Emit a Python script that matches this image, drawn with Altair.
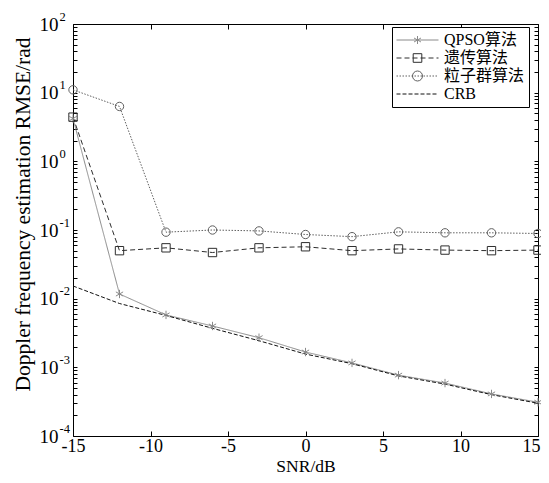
import altair as alt
import pandas as pd

SNR = [-15, -12, -9, -6, -3, 0, 3, 6, 9, 12, 15]
QPSO = [4.2, 0.0117, 0.0058, 0.0040, 0.0027, 0.00167, 0.00116, 0.00077, 0.00059, 0.00041, 0.00031]
GA = [4.4, 0.050, 0.055, 0.047, 0.055, 0.057, 0.050, 0.053, 0.051, 0.050, 0.051]
PSO = [11.0, 6.3, 0.093, 0.100, 0.097, 0.086, 0.080, 0.094, 0.091, 0.091, 0.089]
CRB = [0.0153, 0.0085, 0.0057, 0.0037, 0.00244, 0.00156, 0.00113, 0.00075, 0.00057, 0.00040, 0.00030]

SERIES = ["QPSO算法", "遗传算法", "粒子群算法", "CRB"]
X_TICKS = [-15, -10, -5, 0, 5, 10, 15]
Y_DECADES = [1e-4, 1e-3, 1e-2, 1e-1, 1e0, 1e1, 1e2]
Y_MINOR = [k * 10.0 ** d for d in range(-4, 2) for k in range(1, 10)] + [100.0]

rows = []
for name, vals in zip(SERIES, [QPSO, GA, PSO, CRB]):
    for s, v in zip(SNR, vals):
        rows.append({"snr": s, "value": v, "series": name})
df = pd.DataFrame(rows)

SERIF = "Liberation Serif, Times New Roman, serif"
LEGFONT = "Liberation Serif, Noto Sans CJK SC, serif"

COLORS = ["#8a8a8a", "#2e2e2e", "#606060", "#111111"]
DASHES = [[1, 0], [5, 3], [1.5, 1.5], [4, 2]]
ASTER = "M0,-1V1M-0.866,-0.5L0.866,0.5M-0.866,0.5L0.866,-0.5"

U = 21.0  # legend path unit in px


def dashed(dash, gap):
    x = -1.0
    parts = []
    while x < 1.0:
        x2 = min(x + dash / U, 1.0)
        parts.append(f"M{x:.3f},0H{x2:.3f}")
        x = x2 + gap / U
    return "".join(parts)


a = 4.0 / U
sq = 4.3 / U
cr = 5.0 / U
LEG_PATHS = [
    "M-1,0H1" + f"M0,{-a:.3f}V{a:.3f}M{-0.866*a:.3f},{-0.5*a:.3f}L{0.866*a:.3f},{0.5*a:.3f}"
    f"M{-0.866*a:.3f},{0.5*a:.3f}L{0.866*a:.3f},{-0.5*a:.3f}",
    dashed(5, 3) + f"M{-sq:.3f},{-sq:.3f}H{sq:.3f}V{sq:.3f}H{-sq:.3f}Z",
    dashed(1.5, 1.5) + f"M{cr:.3f},0A{cr:.3f},{cr:.3f} 0 1,1 {-cr:.3f},0A{cr:.3f},{cr:.3f} 0 1,1 {cr:.3f},0Z",
    dashed(4, 2),
]

xscale = alt.Scale(domain=[-15, 15], nice=False, zero=False)
yscale = alt.Scale(type="log", domain=[1e-4, 1e2], nice=False)
cscale = alt.Scale(domain=SERIES, range=COLORS)

base = alt.Chart(df)

x_label_axis = alt.Axis(
    values=X_TICKS, labelExpr="toString(datum.value)", ticks=False, tickSize=0,
    domain=False, grid=False, labelFont=SERIF, labelFontSize=18, labelColor="black",
    labelPadding=15, labelBaseline="alphabetic", labelFlush=False, labelOverlap=False,
    labelOffset={"condition": {"test": "datum.value == 15", "value": -7}, "value": 0},
    title="SNR/dB", titleFont=SERIF, titleFontSize=17.5, titleFontWeight="normal",
    titleColor="black", titleBaseline="alphabetic", titleY=35, orient="bottom",
)
y_label_axis = alt.Axis(
    values=Y_DECADES, labelExpr="'10'", ticks=False, tickSize=0, domain=False,
    grid=False, labelFont=SERIF, labelFontSize=19, labelColor="black",
    labelPadding=15, labelBaseline="middle", labelOverlap=False, labelFlush=False,
    title="Doppler frequency estimation RMSE/rad", titleFont=SERIF, titleFontSize=21.5,
    titleFontWeight="normal", titleColor="black", titleBaseline="alphabetic",
    titleAlign="center", titleAngle=270, titleX=-44, titleY=190, orient="left",
)
x_bottom_ticks = alt.Axis(
    values=X_TICKS, orient="bottom", offset=-5, tickSize=5, ticks=True, labels=False,
    domain=False, grid=False, title=None, tickColor="black", tickWidth=1,
)
y_exp_axis = alt.Axis(
    values=Y_DECADES, labelExpr="toString(round(log(datum.value)/LN10))", ticks=False,
    tickSize=0, domain=False, grid=False, labelFont=SERIF, labelFontSize=12.5,
    labelColor="black", labelAlign="left", labelPadding=14, labelOffset=-8,
    labelBaseline="middle", labelOverlap=False, labelFlush=False, title=None, orient="left",
)
x_top_ticks = alt.Axis(
    values=X_TICKS, orient="top", offset=-5, tickSize=5, ticks=True, labels=False,
    domain=False, grid=False, title=None, tickColor="black", tickWidth=1,
)
y_left_ticks = alt.Axis(
    values=Y_MINOR, orient="left", offset=-4, tickSize=4, ticks=True, labels=False,
    domain=False, grid=False, title=None, tickColor="black", tickWidth=1,
)
y_right_ticks = alt.Axis(
    values=Y_MINOR, orient="right", offset=-4, tickSize=4, ticks=True, labels=False,
    domain=False, grid=False, title=None, tickColor="black", tickWidth=1,
)

lines = base.mark_line(strokeWidth=1).encode(
    x=alt.X("snr:Q", scale=xscale, axis=x_label_axis),
    y=alt.Y("value:Q", scale=yscale, axis=y_label_axis),
    color=alt.Color("series:N", scale=cscale, legend=None),
    strokeDash=alt.StrokeDash("series:N", scale=alt.Scale(domain=SERIES, range=DASHES), legend=None),
)

points = base.transform_filter(alt.datum.series != "CRB").mark_point(
    filled=False, size=70, strokeWidth=1, opacity=1
).encode(
    x=alt.X("snr:Q", scale=xscale, axis=x_bottom_ticks),
    y=alt.Y("value:Q", scale=yscale, axis=y_exp_axis),
    color=alt.Color("series:N", scale=cscale, legend=None),
    shape=alt.Shape("series:N", scale=alt.Scale(domain=SERIES, range=[ASTER, "square", "circle", "circle"]), legend=None),
)

leg = dict(
    title=None, orient="none", legendX=319, legendY=3, padding=4, strokeColor="black",
    fillColor="white", symbolSize=1764, symbolStrokeWidth=1, clipHeight=18, rowPadding=0,
    labelFont=LEGFONT, labelFontSize=16, labelColor="black", labelOffset=5, labelLimit=300,
    cornerRadius=0,
)

legend_layer = base.transform_filter("false").mark_point(filled=False, opacity=1).encode(
    x=alt.X("snr:Q", scale=xscale, axis=x_top_ticks),
    y=alt.Y("value:Q", scale=yscale, axis=y_left_ticks),
    color=alt.Color("series:N", scale=cscale, legend=alt.Legend(**leg)),
    shape=alt.Shape("series:N", scale=alt.Scale(domain=SERIES, range=LEG_PATHS), legend=alt.Legend(**leg)),
)

right_layer = base.transform_filter("false").mark_point().encode(
    x=alt.X("snr:Q", scale=xscale, axis=None),
    y=alt.Y("value:Q", scale=yscale, axis=y_right_ticks),
)

chart = (
    alt.layer(lines, points, legend_layer, right_layer)
    .resolve_scale(color="independent", shape="independent", strokeDash="independent")
    .resolve_axis(x="independent", y="independent")
    .properties(
        width=465, height=412,
        padding={"left": 65, "top": 16, "right": 3, "bottom": 39},
        autosize=alt.AutoSizeParams(type="none"),
        background="white",
    )
    .configure_view(stroke="black", strokeWidth=1)
    .configure_axis(grid=False)
)

chart.save("out.html", embed_options={"renderer": "svg", "actions": False})
